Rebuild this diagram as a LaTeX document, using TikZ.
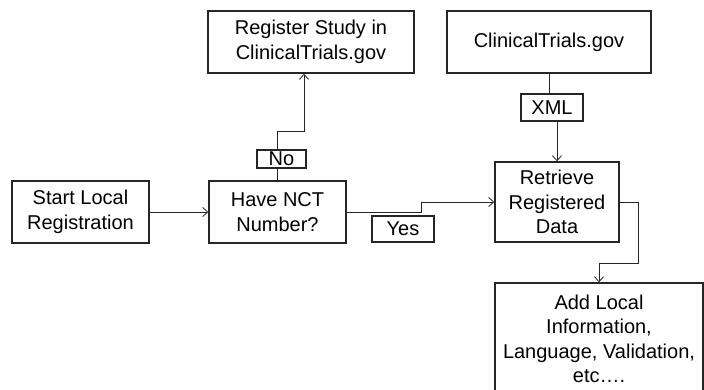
\documentclass[tikz,border=0pt]{standalone}
\usepackage{fontspec}
\setmainfont{Liberation Sans}
\usetikzlibrary{positioning,arrows.meta}

\def\boxfont{\fontsize{20}{24.5}\selectfont}

\begin{document}
\begin{tikzpicture}[x=1pt,y=-1pt,draw=black!85]
  \tikzstyle{every path}=[line width=0.8pt]
  \tikzstyle{step box}=[draw,line width=1.4pt,inner sep=0pt,align=center,font=\boxfont]
  \tikzstyle{tag box}=[step box, line width=1.3pt];
  \tikzstyle{flow}=[-{Straight Barb[length=5pt,width=9pt]},line width=0.8pt];

  \useasboundingbox (0,0) rectangle (704,389);

  % Draw the process boxes
  \node[step box,minimum width=137,minimum height=62] (start) at (80.5,212) {Start Local\\Registration};
  \node[step box,minimum width=137,minimum height=62] (have) at (277.5,212) {Have NCT\\Number?};
  \node[step box,minimum width=206,minimum height=62] (register) at (311,42) {Register Study in\\ClinicalTrials.gov};
  \node[step box,minimum width=204,minimum height=62] (ctgov) at (549,42) {ClinicalTrials.gov};
  \node[step box,minimum width=124,minimum height=80] (retrieve) at (557,202) {Retrieve\\Registered\\Data};
  \node[step box,minimum width=208,minimum height=112] (addinfo) at (599,339)
      {Add Local\\Information,\\Language, Validation,\\etc\ldots.};

  % Draw the labels on the connectors
  \node[tag box,minimum width=49,minimum height=18] (no) at (281.5,159) {No};
  \node[tag box,minimum width=62,minimum height=27] (xml) at (552,107.5) {XML};
  \node[tag box,minimum width=62,minimum height=26] (yes) at (403,229) {Yes};

  % Bends of the connectors
  \coordinate (nobend) at (304,131);
  \coordinate (yesbend) at (421,202);
  \coordinate (addbend) at (638,263);

  % Connect the boxes
  \draw[flow] (start) -- (have);
  \draw (have.north) -- (have.north |- no.south);
  \draw[flow] (have.north |- no.north) |- (nobend) -- (nobend |- register.south);
  \draw (ctgov.south) -- (ctgov.south |- xml.north);
  \draw[flow] (retrieve.north |- xml.south) -- (retrieve.north);
  \draw[flow] (have.east) -| (yesbend) -- (retrieve.west);
  \draw[flow] (retrieve.east) -| (addbend) -| (addinfo.north);
\end{tikzpicture}
\end{document}
